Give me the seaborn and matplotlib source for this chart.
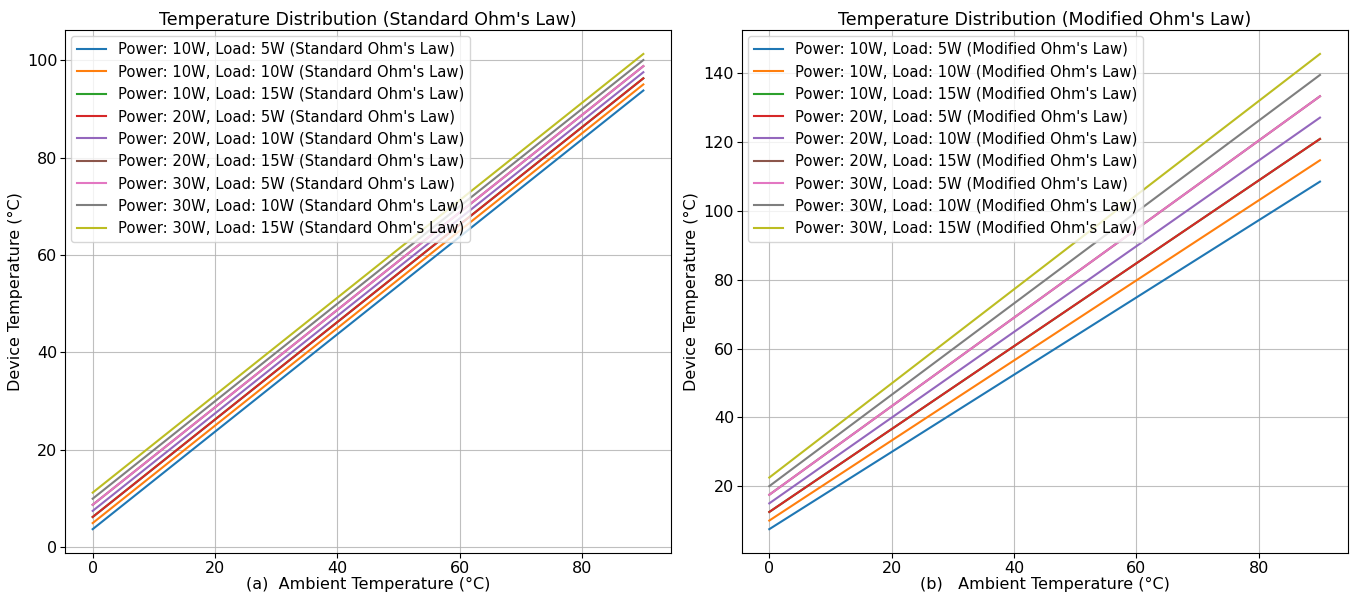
import matplotlib
matplotlib.use("Agg")
import matplotlib.pyplot as plt
import numpy as np
import pandas as pd
import seaborn as sns

# ambient temperature endpoints (lines are straight)
ambient = [0, 90]

powers = [10, 10, 10, 20, 20, 20, 30, 30, 30]
loads = [5, 10, 15, 5, 10, 15, 5, 10, 15]

# device temperature at ambient 0 and 90
std_start = [3.75, 5.0, 6.25, 6.25, 7.5, 8.75, 8.75, 10.0, 11.25]
std_end = [93.75, 95.0, 96.25, 96.25, 97.5, 98.75, 98.75, 100.0, 101.25]
mod_start = [7.5, 10.0, 12.5, 12.5, 15.0, 17.5, 17.5, 20.0, 22.5]
mod_end = [108.5, 114.7, 120.9, 120.9, 127.1, 133.3, 133.3, 139.5, 145.6]


def long_frame(starts, ends, tag):
    rows = []
    for p, l, s, e in zip(powers, loads, starts, ends):
        label = f"Power: {p}W, Load: {l}W ({tag})"
        for x, y in zip(ambient, [s, e]):
            rows.append({"ambient": x, "device": y, "series": label})
    return pd.DataFrame(rows)


df_std = long_frame(std_start, std_end, "Standard Ohm's Law")
df_mod = long_frame(mod_start, mod_end, "Modified Ohm's Law")

plt.rcParams["font.family"] = ["DejaVu Sans"]
fig, axes = plt.subplots(1, 2, figsize=(13.57, 5.92), dpi=100)
fig.subplots_adjust(left=0.048, right=0.993, top=0.949, bottom=0.066, wspace=0.117)

palette = sns.color_palette("tab10", 9)
panels = [
    (axes[0], df_std, "Temperature Distribution (Standard Ohm's Law)", "(a)  Ambient Temperature (°C)"),
    (axes[1], df_mod, "Temperature Distribution (Modified Ohm's Law)", "(b)   Ambient Temperature (°C)"),
]
for ax, df, title, xlabel in panels:
    sns.lineplot(data=df, x="ambient", y="device", hue="series", palette=palette,
                 linewidth=1.5, ax=ax)
    ax.set_title(title, fontsize=12.5, pad=4)
    ax.set_xlabel(xlabel, fontsize=11.5, labelpad=1)
    ax.set_ylabel("Device Temperature (°C)", fontsize=11.5, labelpad=3)
    ax.tick_params(labelsize=11.5, pad=2)
    ax.grid(True, color="#b0b0b0", linewidth=0.8, alpha=0.8)
    ax.legend(loc="upper left", fontsize=10.6, title=None, borderaxespad=0.4)

fig.savefig("out.png", dpi=100)
